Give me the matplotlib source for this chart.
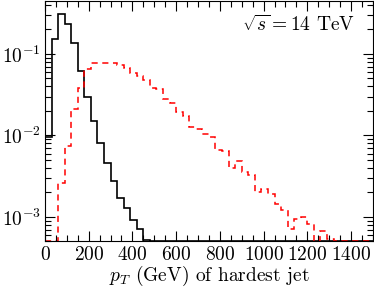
import numpy as np
import matplotlib
matplotlib.use('Agg')
import matplotlib.pyplot as plt
from matplotlib.ticker import MultipleLocator, LogLocator, NullFormatter

# bin edges in GeV (30 GeV bins from 0 to 1500)
edges = np.arange(0, 1501, 30)

# black solid histogram (first 16 bins, the rest empty)
black = [0.0097, 0.153, 0.305, 0.234, 0.135, 0.0622, 0.0297, 0.0149,
         0.00804, 0.0046, 0.00278, 0.00173, 0.00128, 0.00093, 0.000705, 0.000515]
black = black + [0] * (len(edges) - 1 - len(black))

# red dashed histogram
red = [0, 0, 0.00258, 0.00738, 0.0209, 0.0378, 0.0653, 0.0764, 0.0774, 0.0764,
       0.0781, 0.0738, 0.0666, 0.0587, 0.0543, 0.0477, 0.0386, 0.0370, 0.0278, 0.0250,
       0.0192, 0.0175, 0.01255, 0.01186, 0.0105, 0.00944, 0.00671, 0.00653, 0.00403, 0.00482,
       0.0036, 0.0033, 0.0020, 0.0022, 0.00192, 0.00145, 0.00122, 0.00072, 0.00094, 0.00101,
       0.00081, 0, 0.00067, 0.00054, 0, 0, 0, 0, 0, 0]

ymin, ymax = 5e-4, 0.44

plt.rcParams['font.family'] = 'serif'
plt.rcParams['font.serif'] = ['cmr10']
plt.rcParams['mathtext.fontset'] = 'cm'
plt.rcParams['axes.formatter.use_mathtext'] = True
plt.rcParams['font.size'] = 14

fig = plt.figure(figsize=(3.74, 2.88), dpi=100)
ax = fig.add_axes([0.1203, 0.1615, 0.8767, 0.8333])

ax.stairs(np.maximum(black, ymin), edges, baseline=None, color='black', lw=1.2)
ax.stairs(np.maximum(red, ymin), edges, baseline=None, color='red', lw=1.1,
          linestyle=(0, (4, 3)))

ax.set_yscale('log')
ax.set_xlim(0, 1500)
ax.set_ylim(ymin, ymax)

ax.xaxis.set_major_locator(MultipleLocator(200))
ax.xaxis.set_minor_locator(MultipleLocator(50))
ax.yaxis.set_major_locator(LogLocator(base=10))
ax.yaxis.set_minor_locator(LogLocator(base=10, subs=np.arange(2, 10)))
ax.yaxis.set_minor_formatter(NullFormatter())

ax.tick_params(which='both', direction='in', top=True, right=True)
ax.tick_params(which='major', length=7, width=0.8)
ax.tick_params(which='minor', length=4, width=0.8)
ax.tick_params(axis='x', pad=3)
ax.tick_params(axis='y', pad=3)

ax.set_xlabel(r'$p_T$ (GeV) of hardest jet', labelpad=0)
ax.text(0.945, 0.945, r'$\sqrt{s} = 14$ TeV', transform=ax.transAxes,
        ha='right', va='top')

fig.savefig('out.png', dpi=100)
